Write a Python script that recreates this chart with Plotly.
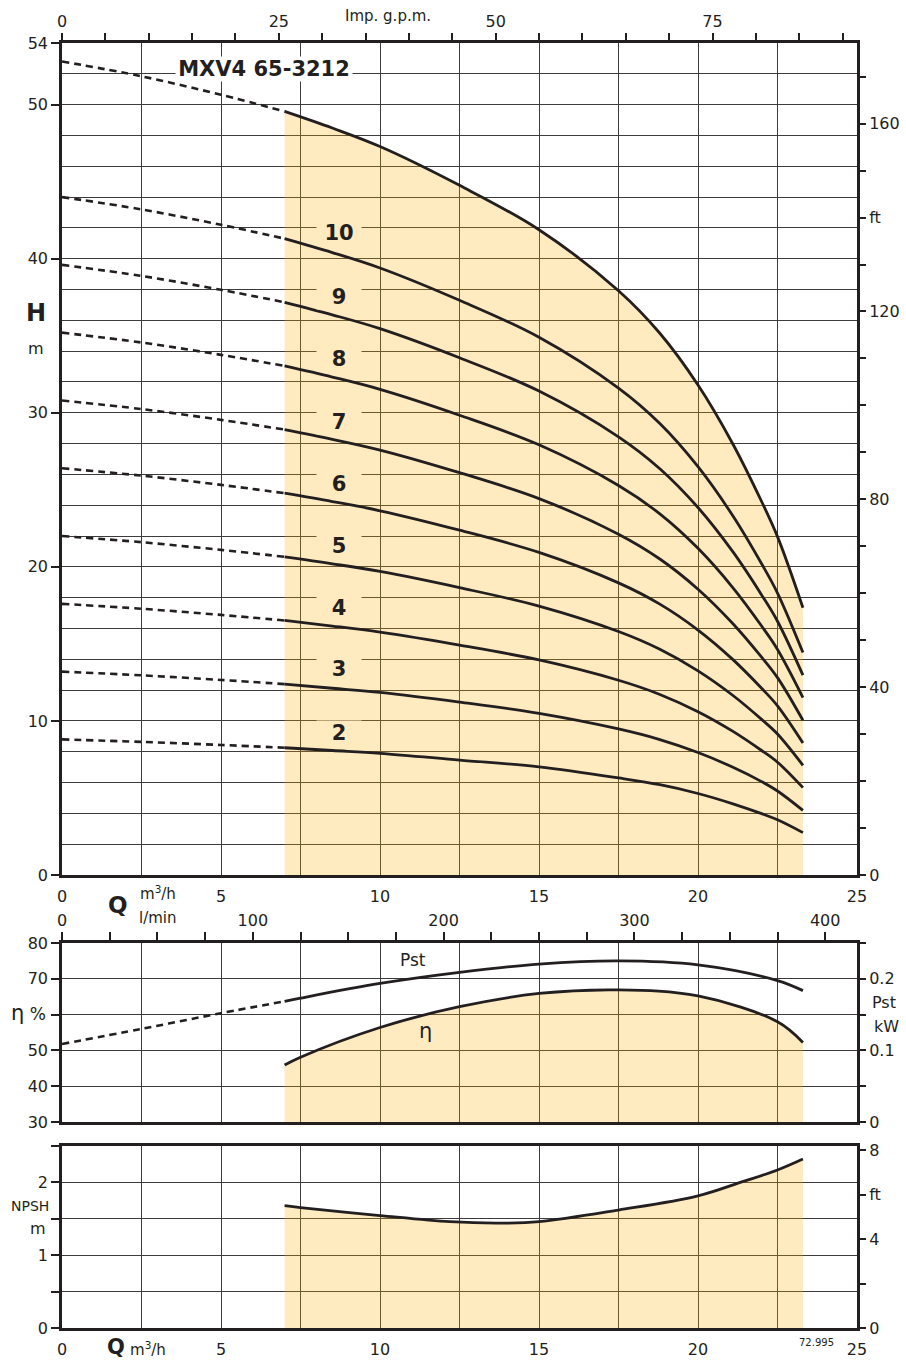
import plotly.graph_objects as go

# ---------------- data ----------------
Q_pts = [0, 2.5, 5, 7, 8.5, 10, 12.5, 15, 17.5, 18.8, 20, 21.1, 22, 22.5, 23.3]
H_12 = [52.8, 51.84, 50.64, 49.56, 48.48, 47.28, 44.76, 41.88, 37.92, 35.16, 31.8, 27.96, 24.24, 21.96, 17.35]
H_10 = [44.0, 43.2, 42.2, 41.3, 40.4, 39.4, 37.3, 34.9, 31.6, 29.3, 26.5, 23.3, 20.2, 18.3, 14.44]
H_9 = [39.6, 38.88, 37.98, 37.17, 36.36, 35.46, 33.57, 31.41, 28.44, 26.37, 23.85, 20.97, 18.18, 16.47, 12.97]
H_8 = [35.2, 34.56, 33.76, 33.04, 32.32, 31.52, 29.84, 27.92, 25.28, 23.44, 21.2, 18.64, 16.16, 14.64, 11.52]
H_7 = [30.8, 30.24, 29.54, 28.91, 28.28, 27.58, 26.11, 24.43, 22.12, 20.51, 18.55, 16.31, 14.14, 12.81, 10.04]
H_6 = [26.4, 25.92, 25.32, 24.78, 24.24, 23.64, 22.38, 20.94, 18.96, 17.58, 15.9, 13.98, 12.12, 10.98, 8.57]
H_5 = [22.0, 21.6, 21.1, 20.65, 20.2, 19.7, 18.65, 17.45, 15.8, 14.65, 13.25, 11.65, 10.1, 9.15, 7.12]
H_4 = [17.6, 17.28, 16.88, 16.52, 16.16, 15.76, 14.92, 13.96, 12.64, 11.72, 10.6, 9.32, 8.08, 7.32, 5.67]
H_3 = [13.2, 12.96, 12.66, 12.39, 12.12, 11.85, 11.22, 10.49, 9.48, 8.79, 7.95, 6.99, 6.06, 5.45, 4.19]
H_2 = [8.8, 8.64, 8.44, 8.26, 8.08, 7.90, 7.46, 7.02, 6.30, 5.86, 5.29, 4.62, 3.98, 3.58, 2.75]
H_curves = [H_12, H_10, H_9, H_8, H_7, H_6, H_5, H_4, H_3, H_2]

stage_labels = ["10", "9", "8", "7", "6", "5", "4", "3", "2"]
stage_label_Q = 8.71
stage_label_H = [41.7, 37.5, 33.47, 29.4, 25.38, 21.35, 17.3, 13.35, 9.24]

Pst_dash_Q = [0, 2.5, 5, 7]
Pst_dash_kW = [0.109, 0.130, 0.152, 0.1685]
Pst_Q = [7, 7.5, 10, 12.5, 15, 17.5, 20, 22.5, 23.3]
Pst_kW = [0.1685, 0.173, 0.1935, 0.209, 0.2205, 0.225, 0.2195, 0.1975, 0.1835]

eta_Q = [7, 7.5, 10, 12.5, 15, 17.5, 20, 22.5, 23.3]
eta_pct = [45.9, 48.1, 56.4, 62.2, 65.9, 66.9, 65.2, 58.0, 52.2]

npsh_Q = [7, 7.5, 10, 12.2, 13.7, 15, 17.5, 20, 21.4, 22.5, 23.3]
npsh_m = [1.68, 1.655, 1.545, 1.46, 1.44, 1.46, 1.62, 1.815, 2.01, 2.17, 2.32]

# ---------------- style ----------------
INK = "#231f20"
GRID = "#3c3c3c"
FILL = "rgba(255,175,0,0.25)"
CREAM = "#FFEBBF"
FONT = "DejaVu Sans"
W, H = 906, 1362
L, R, T, B = 62, 857, 43, 1328


def P(x, y):
    return (x - L) / (R - L), (B - y) / (B - T)


M3H_TO_GPM = 3.6662
M3H_TO_LMIN = 16.6667
M_TO_FT = 3.28084

fig = go.Figure()

# top panel curves
for i, Hc in enumerate(H_curves):
    if i == 0:
        fig.add_trace(go.Scatter(x=Q_pts[3:], y=Hc[3:], mode="lines", fill="tozeroy",
                                 fillcolor=FILL, line=dict(color="rgba(0,0,0,0)", width=0, shape="spline"),
                                 xaxis="x", yaxis="y", hoverinfo="skip", showlegend=False))
    fig.add_trace(go.Scatter(x=Q_pts[:4], y=Hc[:4], mode="lines",
                             line=dict(color=INK, width=2.6, dash="7px,5px", shape="spline"),
                             xaxis="x", yaxis="y", showlegend=False))
    fig.add_trace(go.Scatter(x=Q_pts[3:], y=Hc[3:], mode="lines",
                             line=dict(color=INK, width=2.8, shape="spline"),
                             xaxis="x", yaxis="y", showlegend=False))

# invisible companions so the secondary unit axes are drawn
ghost = dict(mode="lines", line=dict(color="rgba(0,0,0,0)", width=0), hoverinfo="skip", showlegend=False)
fig.add_trace(go.Scatter(x=[q * M3H_TO_GPM for q in Q_pts], y=H_12, xaxis="x2", yaxis="y", **ghost))
fig.add_trace(go.Scatter(x=Q_pts, y=[h * M_TO_FT for h in H_12], xaxis="x", yaxis="y2", **ghost))

# middle panel
fig.add_trace(go.Scatter(x=eta_Q, y=eta_pct, mode="lines", fill="tozeroy", fillcolor=FILL,
                         line=dict(color=INK, width=2.8, shape="spline"),
                         xaxis="x3", yaxis="y3", showlegend=False))
fig.add_trace(go.Scatter(x=Pst_dash_Q, y=Pst_dash_kW, mode="lines",
                         line=dict(color=INK, width=2.6, dash="7px,5px", shape="spline"),
                         xaxis="x3", yaxis="y4", showlegend=False))
fig.add_trace(go.Scatter(x=Pst_Q, y=Pst_kW, mode="lines",
                         line=dict(color=INK, width=2.8, shape="spline"),
                         xaxis="x3", yaxis="y4", showlegend=False))
fig.add_trace(go.Scatter(x=[q * M3H_TO_LMIN for q in eta_Q], y=eta_pct, xaxis="x4", yaxis="y3", **ghost))

# bottom panel
fig.add_trace(go.Scatter(x=npsh_Q, y=npsh_m, mode="lines", fill="tozeroy", fillcolor=FILL,
                         line=dict(color=INK, width=2.8, shape="spline"),
                         xaxis="x5", yaxis="y5", showlegend=False))
fig.add_trace(go.Scatter(x=npsh_Q, y=[v * M_TO_FT for v in npsh_m], xaxis="x5", yaxis="y6", **ghost))

tickfont = dict(family=FONT, size=16, color=INK)
frame = dict(showline=True, linecolor=INK, linewidth=2.5, mirror=True)
grid = dict(showgrid=True, gridcolor=GRID, gridwidth=1)
tk = dict(ticks="outside", tickcolor=INK, tickwidth=1.5)

d_top = [P(0, 875)[1], 1.0]
d_mid = [P(0, 1122)[1], P(0, 943)[1]]
d_bot = [0.0, P(0, 1146)[1]]

fig.update_layout(
    width=W, height=H,
    margin=dict(l=L, r=W - R, t=T, b=H - B, autoexpand=False),
    paper_bgcolor="white", plot_bgcolor="white",
    font=dict(family=FONT, color=INK),
    showlegend=False,
    # --- top panel
    xaxis=dict(domain=[0, 1], anchor="y", range=[0, 25], tickmode="linear", tick0=0, dtick=5,
               ticks="", tickfont=tickfont, ticklabelstandoff=5, zeroline=False, automargin=False,
               minor=dict(dtick=2.5, showgrid=True, gridcolor=GRID, gridwidth=1), **grid, **frame),
    xaxis2=dict(overlaying="x", side="top", anchor="y", range=[0, 25 * M3H_TO_GPM],
                tickvals=[0, 25, 50, 75], ticklen=9, **tk,
                tickfont=tickfont, showgrid=False, zeroline=False, automargin=False,
                minor=dict(dtick=5, ticklen=9, showgrid=False, **tk)),
    yaxis=dict(domain=d_top, anchor="x", range=[0, 54], tickvals=[0, 10, 20, 30, 40, 50, 54],
               ticklen=8, **tk, tickfont=tickfont,
               zeroline=False, automargin=False,
               minor=dict(dtick=2, tick0=0, showgrid=True, gridcolor=GRID, gridwidth=1, ticks=""),
               **grid, **frame),
    yaxis2=dict(overlaying="y", side="right", anchor="x", range=[0, 54 * M_TO_FT],
                tickvals=[0, 40, 80, 120, 140, 160], ticktext=["0", "40", "80", "120", "ft", "160"],
                ticklen=8, **tk, tickfont=tickfont,
                showgrid=False, zeroline=False, automargin=False,
                minor=dict(dtick=10, ticklen=8, showgrid=False, **tk)),
    # --- middle panel
    xaxis3=dict(domain=[0, 1], anchor="y3", range=[0, 25], tickmode="linear", tick0=0, dtick=5,
                showticklabels=False, ticks="", zeroline=False, automargin=False,
                minor=dict(dtick=2.5, showgrid=True, gridcolor=GRID, gridwidth=1), **grid, **frame),
    xaxis4=dict(overlaying="x3", side="top", anchor="y3", range=[0, 25 * M3H_TO_LMIN],
                tickvals=[0, 100, 200, 300, 400], ticklen=10, **tk,
                tickfont=tickfont, showgrid=False, zeroline=False, automargin=False,
                minor=dict(dtick=25, ticklen=10, showgrid=False, **tk)),
    yaxis3=dict(domain=d_mid, anchor="x3", range=[30, 80], tickvals=[30, 40, 50, 60, 70, 80],
                ticktext=["30", "40", "50", "", "70", "80"],
                ticklen=8, **tk, tickfont=tickfont,
                zeroline=False, automargin=False, **grid, **frame),
    yaxis4=dict(overlaying="y3", side="right", anchor="x3", range=[0, 0.25],
                tickvals=[0, 0.1, 0.2], ticktext=["0", "0.1", "0.2"],
                ticklen=8, **tk, tickfont=tickfont,
                showgrid=False, zeroline=False, automargin=False,
                minor=dict(dtick=0.05, ticklen=8, showgrid=False, **tk)),
    # --- bottom panel
    xaxis5=dict(domain=[0, 1], anchor="y5", range=[0, 25], tickmode="linear", tick0=0, dtick=5,
                ticks="", tickfont=tickfont, ticklabelstandoff=5, zeroline=False, automargin=False,
                minor=dict(dtick=2.5, showgrid=True, gridcolor=GRID, gridwidth=1), **grid, **frame),
    yaxis5=dict(domain=d_bot, anchor="x5", range=[0, 2.5], tickvals=[0, 1, 2],
                ticklen=8, **tk, tickfont=tickfont,
                zeroline=False, automargin=False,
                minor=dict(dtick=0.5, tick0=0, ticklen=8, showgrid=True, gridcolor=GRID, gridwidth=1, **tk),
                **grid, **frame),
    yaxis6=dict(overlaying="y5", side="right", anchor="x5", range=[0, 2.5 * M_TO_FT],
                tickvals=[0, 4, 6, 8], ticktext=["0", "4", "ft", "8"],
                ticklen=8, **tk, tickfont=tickfont,
                showgrid=False, zeroline=False, automargin=False,
                minor=dict(dtick=2, ticklen=8, showgrid=False, **tk)),
)

ann = []


def text_px(x, y, s, size=16, bold=False, xanchor="center", bg=None, width=None):
    px, py = P(x, y)
    a = dict(x=px, y=py, xref="paper", yref="paper", text=("<b>%s</b>" % s) if bold else s,
             showarrow=False, xanchor=xanchor, yanchor="middle",
             font=dict(family=FONT, size=size, color=INK))
    if bg:
        a["bgcolor"] = bg
        a["borderpad"] = 0
    if width:
        a["width"] = width
    ann.append(a)


# stage labels
for lab, hv in zip(stage_labels, stage_label_H):
    ann.append(dict(x=stage_label_Q, y=hv, xref="x", yref="y", text="<b>%s</b>" % lab, showarrow=False,
                    font=dict(family=FONT, size=21, color=INK), bgcolor=CREAM, borderpad=0, width=44))

text_px(264, 69, "MXV4 65-3212", size=21, bold=True, bg="white", width=176)
text_px(388, 16, "Imp. g.p.m.", size=15)
text_px(36, 313, "H", size=24, bold=True)
text_px(36, 348, "m", size=16)
text_px(118, 905, "Q", size=23, bold=True)
text_px(138, 893, "m<sup>3</sup>/h", size=15, xanchor="left")
text_px(137, 918, "l/min", size=15, xanchor="left")
text_px(28, 1013, "<span style='font-size:21px'>η</span> %", size=17)
text_px(884, 1002, "Pst", size=16)
text_px(886, 1026, "kW", size=16)
text_px(413, 960, "Pst", size=17)
text_px(425, 1031, "η", size=21)
text_px(30, 1206, "NPSH", size=14)
text_px(38, 1228, "m", size=16)
text_px(116, 1347, "Q", size=21, bold=True)
text_px(128, 1349, "m<sup>3</sup>/h", size=15, xanchor="left")
text_px(816, 1342, "72.995", size=10)

fig.update_layout(annotations=ann)

fig.write_html("out.html")
